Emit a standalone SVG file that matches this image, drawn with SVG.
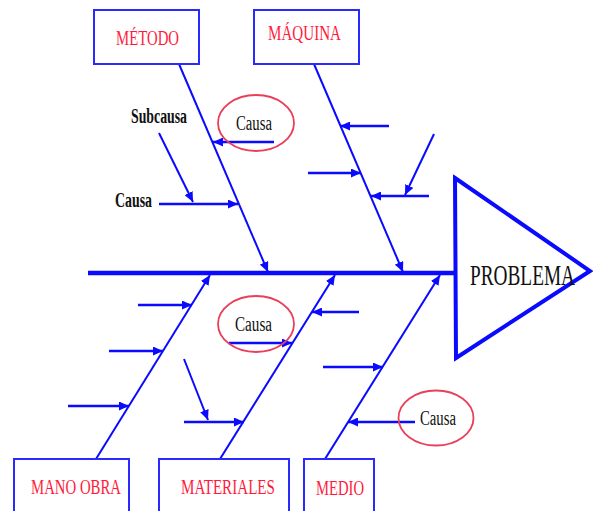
<svg xmlns="http://www.w3.org/2000/svg" width="593" height="511" viewBox="0 0 593 511">
<defs>
<style>
.box{fill:#fff;stroke:#2a2aff;stroke-width:2}
.lbl{font-family:"Liberation Serif","Times New Roman",serif;font-size:21px;fill:#ff1a3c}
.bone{stroke:#0a0aff;stroke-width:2;fill:none}
.sub{stroke:#0a0aff;stroke-width:2.5;fill:none}
.ell{fill:none;stroke:#e8405a;stroke-width:1.8}
.txt{font-family:"Liberation Serif","Times New Roman",serif;font-size:20px;fill:#111}
</style>
<marker id="ah" markerUnits="userSpaceOnUse" markerWidth="11" markerHeight="9" refX="10" refY="4.5" orient="auto">
<path d="M0,0 L10,4.5 L0,9 z" fill="#0a0aff"/>
</marker>
</defs>
<rect width="593" height="511" fill="#fff"/>
<g id="problema">
<polygon points="455,178 590,271 456,358" fill="#fff" stroke="#0a0aff" stroke-width="4" stroke-linejoin="miter"/>
<text x="470" y="285" font-family="Liberation Serif,Times New Roman,serif" font-size="29" fill="#111" textLength="105" lengthAdjust="spacingAndGlyphs">PROBLEMA</text>
</g>
<g id="connectors">
<line x1="88" y1="273" x2="456" y2="273" stroke="#0a0aff" stroke-width="4.5"/>
<line class="bone" x1="179" y1="64" x2="268" y2="272" marker-end="url(#ah)"/>
<line class="bone" x1="314" y1="64" x2="403" y2="272" marker-end="url(#ah)"/>
<line class="bone" x1="96" y1="459" x2="210" y2="275" marker-end="url(#ah)"/>
<line class="bone" x1="220" y1="459" x2="335" y2="275" marker-end="url(#ah)"/>
<line class="bone" x1="325" y1="459" x2="440" y2="275" marker-end="url(#ah)"/>
<line class="sub" x1="274" y1="142" x2="213" y2="142" marker-end="url(#ah)"/>
<line class="sub" x1="159" y1="204" x2="238" y2="204" marker-end="url(#ah)"/>
<line class="bone" x1="159" y1="133" x2="193" y2="202" marker-end="url(#ah)"/>
<line class="sub" x1="389" y1="126" x2="340" y2="126" marker-end="url(#ah)"/>
<line class="sub" x1="308" y1="173" x2="361" y2="173" marker-end="url(#ah)"/>
<line class="sub" x1="429" y1="196" x2="371" y2="196" marker-end="url(#ah)"/>
<line class="bone" x1="434" y1="134" x2="405" y2="195" marker-end="url(#ah)"/>
<line class="sub" x1="138" y1="305" x2="192" y2="305" marker-end="url(#ah)"/>
<line class="sub" x1="109" y1="351" x2="163" y2="351" marker-end="url(#ah)"/>
<line class="sub" x1="68" y1="406" x2="129" y2="406" marker-end="url(#ah)"/>
<line class="sub" x1="229" y1="343" x2="292" y2="343" marker-end="url(#ah)"/>
<line class="sub" x1="184" y1="422" x2="244" y2="422" marker-end="url(#ah)"/>
<line class="bone" x1="184" y1="359" x2="208" y2="420" marker-end="url(#ah)"/>
<line class="sub" x1="359" y1="312" x2="312" y2="312" marker-end="url(#ah)"/>
<line class="sub" x1="323" y1="367" x2="383" y2="367" marker-end="url(#ah)"/>
<line class="sub" x1="415" y1="422" x2="348" y2="422" marker-end="url(#ah)"/>
</g>
<g id="metodo">
<rect class="box" x="94" y="10" width="105" height="54"/>
<text class="lbl" x="116" y="45" textLength="63" lengthAdjust="spacingAndGlyphs">MÉTODO</text>
</g>
<g id="maquina">
<rect class="box" x="254" y="10" width="105" height="54"/>
<text class="lbl" x="268" y="40" textLength="73" lengthAdjust="spacingAndGlyphs">MÁQUINA</text>
</g>
<g id="mano-obra">
<rect class="box" x="14" y="459" width="115" height="70"/>
<text class="lbl" x="31" y="494" textLength="90" lengthAdjust="spacingAndGlyphs">MANO OBRA</text>
</g>
<g id="materiales">
<rect class="box" x="159" y="459" width="130" height="70"/>
<text class="lbl" x="181" y="494" textLength="94" lengthAdjust="spacingAndGlyphs">MATERIALES</text>
</g>
<g id="medio">
<rect class="box" x="304" y="459" width="70" height="70"/>
<text class="lbl" x="316" y="495" textLength="48" lengthAdjust="spacingAndGlyphs">MEDIO</text>
</g>
<g id="causa-metodo">
<ellipse class="ell" cx="256" cy="123" rx="38" ry="28"/>
<text class="txt" x="236" y="130" textLength="36" lengthAdjust="spacingAndGlyphs">Causa</text>
</g>
<g id="subcausa-label">
<text class="txt" x="131" y="123" font-weight="bold" textLength="56" lengthAdjust="spacingAndGlyphs">Subcausa</text>
</g>
<g id="causa-label">
<text class="txt" x="115" y="207" font-weight="bold" textLength="37" lengthAdjust="spacingAndGlyphs">Causa</text>
</g>
<g id="causa-materiales">
<ellipse class="ell" cx="256" cy="324" rx="38" ry="28"/>
<text class="txt" x="235" y="331" textLength="37" lengthAdjust="spacingAndGlyphs">Causa</text>
</g>
<g id="causa-medio">
<ellipse class="ell" cx="436" cy="418" rx="37.5" ry="27.5"/>
<text class="txt" x="420" y="425" textLength="36" lengthAdjust="spacingAndGlyphs">Causa</text>
</g>
</svg>
